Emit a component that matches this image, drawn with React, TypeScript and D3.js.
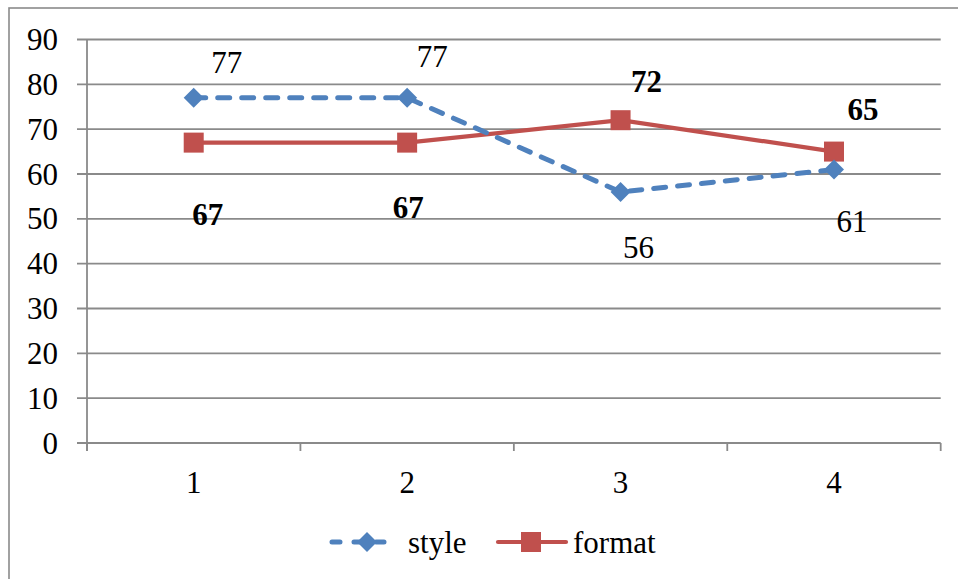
import React from "react";
import * as d3 from "d3";

const categories = ["1", "2", "3", "4"];
const styleValues = [77, 77, 56, 61];
const formatValues = [67, 67, 72, 65];
const yTicks = [0, 10, 20, 30, 40, 50, 60, 70, 80, 90];
const seriesNames = ["style", "format"];

// layout
const W = 958;
const H = 579;
const plot = { left: 87, right: 940.7, top: 39.5, bottom: 443 };
const BLUE = "#4F81BD";
const RED = "#C0504D";
const GRID = "#8a8a8a";
const FONT = "Times New Roman, Liberation Serif, Tinos, DejaVu Serif, serif";
const FS = 31;
// label offsets (dx, dy of baseline) relative to each point
const styleLabelOffsets: [number, number][] = [[33, -25], [25, -31], [18, 66], [18, 62]];
const formatLabelOffsets: [number, number][] = [[14, 82], [1, 75], [26, -28], [29, -32]];

export default function App() {
  const x = d3
    .scaleBand<string>()
    .domain(categories)
    .range([plot.left, plot.right]);
  const cx = (c: string) => (x(c) as number) + x.bandwidth() / 2;
  const y = d3.scaleLinear().domain([0, 90]).range([plot.bottom, plot.top]);

  const line = d3
    .line<number>()
    .x((_, i) => cx(categories[i]))
    .y((d) => y(d));

  const boundaries = [...categories.map((c) => x(c) as number), plot.right];

  const diamond = (px: number, py: number, r: number) =>
    `M${px},${py - r}L${px + r},${py}L${px},${py + r}L${px - r},${py}Z`;

  const legendY = 542;
  const txt = { fontFamily: FONT, fontSize: FS } as React.CSSProperties;

  return (
    <svg
      width={W}
      height={H}
      style={{ position: "absolute", left: 0, top: 0, background: "#fff", fontFamily: FONT }}
    >
      <rect x={9} y={8} width={1000} height={700} fill="#fff" stroke={GRID} strokeWidth={1.6} />
      {/* gridlines */}
      {yTicks.map((t) => (
        <g key={t}>
          <line x1={plot.left - 10} x2={plot.right} y1={y(t)} y2={y(t)} stroke={GRID} strokeWidth={1.8} />
          <text x={58} y={y(t) + 10.5} textAnchor="end" style={txt} fill="#000">
            {t}
          </text>
        </g>
      ))}
      {/* y axis */}
      <line x1={plot.left} x2={plot.left} y1={plot.top} y2={plot.bottom + 8} stroke={GRID} strokeWidth={1.8} />
      {/* x ticks */}
      {boundaries.map((b, i) => (
        <line key={i} x1={b} x2={b} y1={plot.bottom} y2={plot.bottom + 8} stroke={GRID} strokeWidth={1.8} />
      ))}
      {categories.map((c) => (
        <text key={c} x={cx(c)} y={493} textAnchor="middle" style={txt} fill="#000">
          {c}
        </text>
      ))}
      {/* format series */}
      <path d={line(formatValues) || ""} fill="none" stroke={RED} strokeWidth={4.2} />
      {formatValues.map((v, i) => (
        <rect key={i} x={cx(categories[i]) - 10} y={y(v) - 10} width={20} height={20} fill={RED} />
      ))}
      {/* style series */}
      <path
        d={line(styleValues) || ""}
        fill="none"
        stroke={BLUE}
        strokeWidth={5}
        strokeDasharray="12 12"
        strokeLinecap="round"
      />
      {styleValues.map((v, i) => (
        <path key={i} d={diamond(cx(categories[i]), y(v), 10)} fill={BLUE} />
      ))}
      {/* data labels */}
      {styleValues.map((v, i) => (
        <text
          key={"s" + i}
          x={cx(categories[i]) + styleLabelOffsets[i][0]}
          y={y(v) + styleLabelOffsets[i][1]}
          textAnchor="middle"
          style={txt}
          fill="#000"
        >
          {v}
        </text>
      ))}
      {formatValues.map((v, i) => (
        <text
          key={"f" + i}
          x={cx(categories[i]) + formatLabelOffsets[i][0]}
          y={y(v) + formatLabelOffsets[i][1]}
          textAnchor="middle"
          style={{ ...txt, fontWeight: "bold" }}
          fill="#000"
        >
          {v}
        </text>
      ))}
      {/* legend */}
      <g>
        <line x1={332} x2={392} y1={legendY} y2={legendY} stroke={BLUE} strokeWidth={5} strokeDasharray="8 14" strokeLinecap="round" />
        <path d={diamond(367, legendY, 10)} fill={BLUE} />
        <text x={408} y={553} style={txt} fill="#000">
          {seriesNames[0]}
        </text>
        <line x1={498} x2={566} y1={legendY} y2={legendY} stroke={RED} strokeWidth={4.2} strokeLinecap="round" />
        <rect x={521} y={legendY - 10} width={20} height={20} fill={RED} />
        <text x={573} y={553} style={txt} fill="#000">
          {seriesNames[1]}
        </text>
      </g>
    </svg>
  );
}
